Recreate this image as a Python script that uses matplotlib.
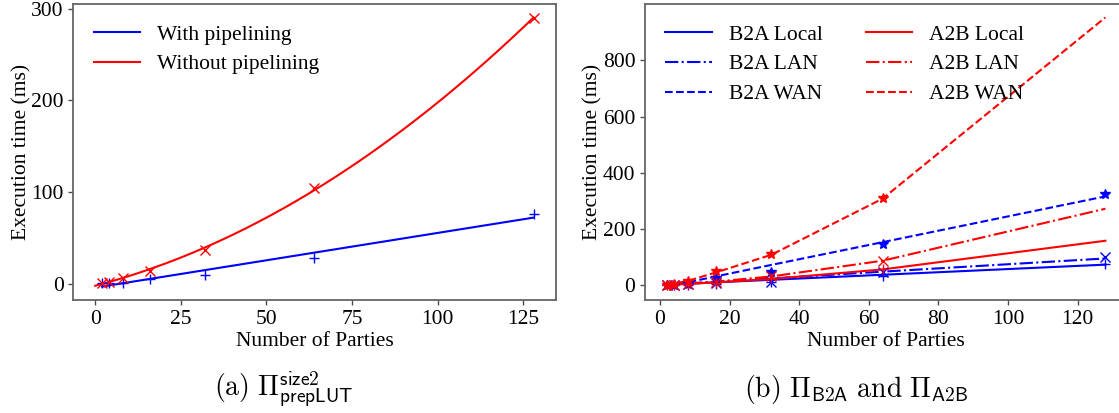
import numpy as np
import matplotlib
matplotlib.use("Agg")
from matplotlib import pyplot as plt

plt.rcParams['font.family'] = ['Liberation Serif', 'DejaVu Serif']
plt.rcParams['mathtext.fontset'] = 'cm'
plt.rcParams['font.size'] = 15.5

# (a) prepLUT timings
parties_a = [2, 4, 8, 16, 32, 64, 128]
with_pipe = [0.5, 0.8, 1.4, 5, 10, 28.6, 76]
without_pipe = [1.4, 2.5, 6.8, 14, 37, 104.7, 290]

# (b) B2A / A2B timings (markers)
parties_b = [2, 4, 8, 16, 32, 64, 128]
parties_a2b = [2, 4, 8, 16, 32, 64]
b2a_local = [0.5, 1, 2, 4, 10, 32, 75]
b2a_lan = [1, 1.5, 3, 6, 12, 47, 99]
b2a_wan = [1, 2, 5, 24, 48, 146, 326]
a2b_local = [1, 2, 4, 9, 25, 56]
a2b_lan = [1, 2, 5, 12, 32, 87]
a2b_wan = [2, 3, 16, 52, 110, 310]

# fitted curves
b2a_local_fit = [2, 3, 5, 10, 19, 37, 73]
b2a_lan_fit = [2, 3.5, 6, 12, 24, 48, 95]
b2a_wan_fit = [-5, 0, 10, 31, 72, 153, 316]
a2b_local_fit = [1, 2.2, 4.5, 9.7, 22, 56, 158]
a2b_lan_fit = [1, 2.5, 5.5, 12.5, 31, 87, 272]
a2b_wan_fit = [3, 6, 15, 45, 108, 308, 953]


def style(ax):
    for s in ax.spines.values():
        s.set_color('0.4')
        s.set_linewidth(1.3)
    ax.tick_params(length=3.5, width=1, color='0.3')
    ax.set_xlabel("Number of Parties", labelpad=2)
    ax.set_ylabel("Execution time (ms)", labelpad=0)


fig = plt.figure(figsize=(11.19, 4.13), dpi=100)

# ---- panel a
ax1 = fig.add_axes([0.0655, 0.2736, 0.431, 0.7167])
c1 = np.polyfit(parties_a, with_pipe, 1)
c2 = np.polyfit(parties_a, without_pipe, 2)
xs1 = np.linspace(2, 128, 200)
xs2 = np.linspace(0, 128, 200)
ax1.plot(xs1, np.polyval(c1, xs1), color='blue', lw=1.5, label='With pipelining')
ax1.plot(xs2, np.polyval(c2, xs2), color='red', lw=1.5, label='Without pipelining')
ax1.plot(parties_a, with_pipe, '+', color='blue', ms=7)
ax1.plot(parties_a, without_pipe, 'x', color='red', ms=7)
ax1.set_xticks([0, 25, 50, 75, 100, 125])
ax1.set_yticks([0, 100, 200, 300])
style(ax1)
ax1.legend(loc='upper left', frameon=False, handlelength=2.15,
           handletextpad=0.8, labelspacing=0.45, borderaxespad=0.55)

# ---- panel b
ax2 = fig.add_axes([0.5764, 0.2736, 0.431, 0.7167])
ax2.plot(parties_b, b2a_local_fit, '-', color='blue', lw=1.5, label='B2A Local')
ax2.plot(parties_b, b2a_lan_fit, '-.', color='blue', lw=1.5, label='B2A LAN')
ax2.plot(parties_b, b2a_wan_fit, '--', color='blue', lw=1.5, label='B2A WAN')
ax2.plot(parties_b, a2b_local_fit, '-', color='red', lw=1.5, label='A2B Local')
ax2.plot(parties_b, a2b_lan_fit, '-.', color='red', lw=1.5, label='A2B LAN')
ax2.plot(parties_b, a2b_wan_fit, '--', color='red', lw=1.5, label='A2B WAN')
ax2.plot(parties_b, b2a_local, '+', color='blue', ms=7)
ax2.plot(parties_b, b2a_lan, 'x', color='blue', ms=7)
ax2.plot(parties_b, b2a_wan, '*', color='blue', ms=7)
ax2.plot(parties_a2b, a2b_local, '+', color='red', ms=7)
ax2.plot(parties_a2b, a2b_lan, 'x', color='red', ms=7)
ax2.plot(parties_a2b, a2b_wan, '*', color='red', ms=7)
ax2.set_xticks([0, 20, 40, 60, 80, 100, 120])
ax2.set_yticks([0, 200, 400, 600, 800])
style(ax2)
ax2.legend(loc='upper left', ncol=2, frameon=False, handlelength=2.15,
           handletextpad=0.8, labelspacing=0.45, columnspacing=2.0,
           borderaxespad=0.55)

fig.text(284 / 1119, 1 - 390 / 413, r'$\mathrm{(a)}\ \Pi^{\mathsf{size2}}_{\mathsf{prepLUT}}$',
         ha='center', va='center', fontsize=20)
fig.text(856 / 1119, 1 - 390 / 413, r'$\mathrm{(b)}\ \Pi_{\mathsf{B2A}}\ \mathrm{and}\ \Pi_{\mathsf{A2B}}$',
         ha='center', va='center', fontsize=20)

fig.savefig('out.png', dpi=100)
